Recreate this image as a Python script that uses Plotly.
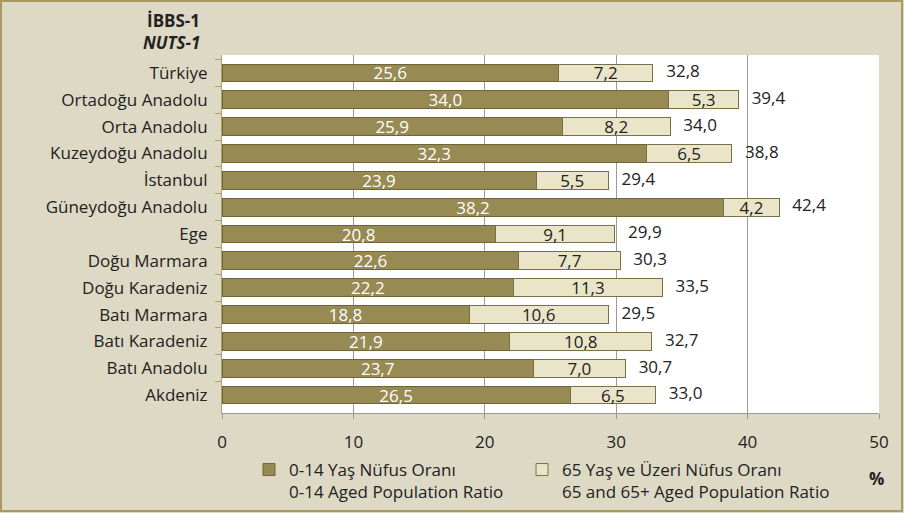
import plotly.graph_objects as go

regions = ["Türkiye", "Ortadoğu Anadolu", "Orta Anadolu", "Kuzeydoğu Anadolu", "İstanbul",
           "Güneydoğu Anadolu", "Ege", "Doğu Marmara", "Doğu Karadeniz", "Batı Marmara",
           "Batı Karadeniz", "Batı Anadolu", "Akdeniz"]
young = [25.6, 34.0, 25.9, 32.3, 23.9, 38.2, 20.8, 22.6, 22.2, 18.8, 21.9, 23.7, 26.5]
old = [7.2, 5.3, 8.2, 6.5, 5.5, 4.2, 9.1, 7.7, 11.3, 10.6, 10.8, 7.0, 6.5]
total = [32.8, 39.4, 34.0, 38.8, 29.4, 42.4, 29.9, 30.3, 33.5, 29.5, 32.7, 30.7, 33.0]
x_ticks = [0, 10, 20, 30, 40, 50]

FONT = "Open Sans"
FS = 17
W, H = 904, 513
L, R, T, B = 222, 25, 55, 100
pw, ph = W - L - R, H - T - B


def fmt(v):
    return f"{v:.1f}".replace(".", ",")


fig = go.Figure()
fig.add_trace(go.Bar(
    y=regions, x=young, orientation="h",
    name="0-14 Yaş Nüfus Oranı<br>0-14 Aged Population Ratio",
    marker=dict(color="#978A52", line=dict(color="#6E6435", width=1)),
    text=[fmt(v) for v in young],
    textposition="inside", insidetextanchor="middle", textangle=0,
    textfont=dict(color="white", size=FS, family=FONT),
    legend="legend", hoverinfo="skip"))
fig.add_trace(go.Bar(
    y=regions, x=old, orientation="h",
    name="65 Yaş ve Üzeri Nüfus Oranı<br>65 and 65+ Aged Population Ratio",
    marker=dict(color="#EAE5C9", line=dict(color="#7A7045", width=1)),
    text=[fmt(v) for v in old],
    textposition="inside", insidetextanchor="middle", textangle=0,
    textfont=dict(color="#222222", size=FS, family=FONT),
    legend="legend2", hoverinfo="skip"))
fig.add_trace(go.Scatter(
    y=regions, x=[a + b for a, b in zip(young, old)], mode="text",
    text=["   " + fmt(v) for v in total],
    textposition="middle right",
    textfont=dict(color="#222222", size=FS, family=FONT),
    showlegend=False, hoverinfo="skip"))

leg_common = dict(orientation="v", xanchor="left", yref="container", yanchor="top",
                  y=1 - 452 / H, valign="top", bgcolor="rgba(0,0,0,0)",
                  font=dict(size=FS, family=FONT, color="#222222"),
                  itemwidth=30, tracegroupgap=0, xref="container")

fig.update_layout(
    width=W, height=H, barmode="stack", bargap=0.34,
    margin=dict(l=L, r=R, t=T, b=B, autoexpand=False),
    paper_bgcolor="#DDD9C4", plot_bgcolor="white",
    font=dict(family=FONT, size=FS, color="#222222"),
    showlegend=True,
    uniformtext=dict(minsize=FS, mode="show"),
    legend=dict(**leg_common, x=249 / W),
    legend2=dict(**leg_common, x=522 / W),
    xaxis=dict(range=[0, 50], tickvals=x_ticks, ticktext=[str(v) for v in x_ticks],
               showgrid=True, gridcolor="#9A9A9A", gridwidth=1,
               ticks="outside", ticklen=5, tickcolor="#9A9A9A",
               showline=True, linecolor="#9A9A9A", zeroline=False,
               ticklabelstandoff=9, tickfont=dict(size=FS)),
    yaxis=dict(autorange="reversed", type="category", tickson="boundaries",
               ticks="outside", ticklen=6, tickcolor="#B0A070",
               showline=True, linecolor="#B0A070", showgrid=False,
               tickfont=dict(size=FS), ticklabelstandoff=10),
    annotations=[
        dict(text="<b>İBBS-1</b>", xref="paper", yref="paper",
             x=(202 - L) / pw, y=(T + ph - 20) / ph, xanchor="right", yanchor="middle",
             showarrow=False, font=dict(size=FS)),
        dict(text="<b><i>NUTS-1</i></b>", xref="paper", yref="paper",
             x=(202 - L) / pw, y=(T + ph - 43) / ph, xanchor="right", yanchor="middle",
             showarrow=False, font=dict(size=FS)),
        dict(text="<b>%</b>", xref="paper", yref="paper",
             x=(876 - L) / pw, y=(T + ph - 478) / ph, xanchor="center", yanchor="middle",
             showarrow=False, font=dict(size=FS)),
    ],
    shapes=[dict(type="rect", xref="paper", yref="paper",
                 x0=(1 - L) / pw, x1=(W - 2 - L) / pw,
                 y0=(T + ph - (H - 2)) / ph, y1=(T + ph - 1) / ph,
                 line=dict(color="#A89A62", width=2), fillcolor="rgba(0,0,0,0)",
                 layer="above")],
)
fig.write_html("out.html", config={"displayModeBar": False},
               post_script="document.body.style.margin='0';document.body.style.overflow='hidden';")
